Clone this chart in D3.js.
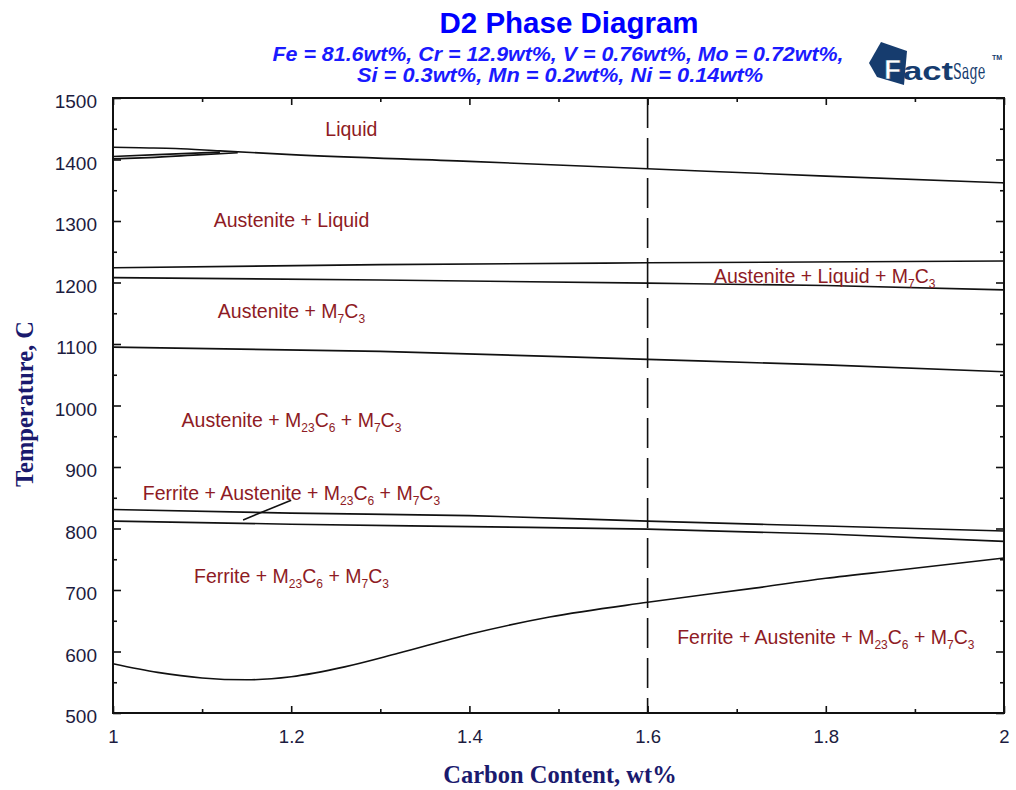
<!DOCTYPE html>
<html>
<head>
<meta charset="utf-8">
<script src="https://cdn.jsdelivr.net/npm/d3@7"></script>
<style>
  body { margin: 0; background: #fff; }
  svg { display: block; }
</style>
</head>
<body>
<svg id="chart" width="1016" height="790"></svg>
<script>
// phase boundaries, [wt% C, T in C]
let liquidus = [[1,1420],[1.03,1419],[1.07,1418],[1.12,1414],[1.2,1408],[1.4,1397],[1.6,1385],[1.8,1373],[2,1362]];
let lensUpper = [[1,1405],[1.05,1408],[1.12,1412]];
let lensLower = [[1,1401],[1.04,1403],[1.1,1408],[1.14,1411]];
let austLiqTop = [[1,1224],[1.3,1229],[1.6,1232],[2,1235]];
let austLiqBottom = [[1,1208],[1.3,1204],[1.6,1199],[1.8,1195],[2,1188]];
let m7c3Line = [[1,1095],[1.3,1088],[1.6,1075],[1.8,1066],[2,1055]];
let ferriteTop = [[1,831],[1.2,825],[1.4,821],[1.6,812],[1.8,804],[2,796]];
let ferriteBottom = [[1,812],[1.2,807],[1.4,803],[1.6,799],[1.8,791],[2,779]];
let lowCurve = [[1,580],[1.05,566],[1.1,557],[1.15,554],[1.2,559],[1.26,575],[1.32,597],[1.4,628],[1.49,656],[1.6,680],[1.72,703],[1.8,719],[1.88,732],[2,752]];
let pointer = [[1.146,814],[1.2,846]];
let sectionX = 1.6;

let xTicks = [1,1.2,1.4,1.6,1.8,2];
let xMinor = [1.1,1.3,1.5,1.7,1.9];
let yTicks = [500,600,700,800,900,1000,1100,1200,1300,1400,1500];
let yMinor = [550,650,750,850,950,1050,1150,1250,1350,1450];

// labels: [text parts, x, T, anchor]  parts: [text, sub?]
let labels = [
  [[["Liquid",0]], 1.2675, 1438, "middle"],
  [[["Austenite + Liquid",0]], 1.2003, 1290, "middle"],
  [[["Austenite + Liquid + M",0],["7",1],["C",0],["3",1]], 1.6745, 1200, "start"],
  [[["Austenite + M",0],["7",1],["C",0],["3",1]], 1.2003, 1142, "middle"],
  [[["Austenite + M",0],["23",1],["C",0],["6",1],[" + M",0],["7",1],["C",0],["3",1]], 1.2003, 965, "middle"],
  [[["Ferrite + Austenite + M",0],["23",1],["C",0],["6",1],[" + M",0],["7",1],["C",0],["3",1]], 1.2003, 847, "middle"],
  [[["Ferrite + M",0],["23",1],["C",0],["6",1],[" + M",0],["7",1],["C",0],["3",1]], 1.2003, 711, "middle"],
  [[["Ferrite + Austenite + M",0],["23",1],["C",0],["6",1],[" + M",0],["7",1],["C",0],["3",1]], 1.80, 612, "middle"]
];

let svg = d3.select("#chart");
let pLeft = 113, pRight = 1004, pTop = 98, pBottom = 713;

let x = d3.scaleLinear().domain([1,2]).range([pLeft,pRight]);
let y = d3.scaleLinear().domain([500,1500]).range([pBottom,pTop]);

let line = d3.line().x(d => x(d[0])).y(d => y(d[1])).curve(d3.curveMonotoneX);

// title
svg.append("text").attr("x",569).attr("y",33).attr("text-anchor","middle")
  .style("font-family","Liberation Sans, Arial").style("font-weight","bold").style("font-size","29.5px")
  .attr("fill","#0000ff").text("D2 Phase Diagram");
let subs = [["Fe = 81.6wt%, Cr = 12.9wt%, V = 0.76wt%, Mo = 0.72wt%,",558,61,571],
            ["Si = 0.3wt%, Mn = 0.2wt%, Ni = 0.14wt%",560,82,406]];
subs.forEach(s => {
  svg.append("text").attr("x",s[1]).attr("y",s[2]).attr("text-anchor","middle")
    .style("font-family","Liberation Sans, Arial").style("font-weight","bold").style("font-style","italic")
    .style("font-size","20px").attr("fill","#1a1aff")
    .attr("textLength",s[3]).attr("lengthAdjust","spacingAndGlyphs").text(s[0]);
});

// FactSage logo
let logo = svg.append("g");
logo.append("path").attr("d","M869,63 L881,42 L907,51 L904,85 L877,77 Z").attr("fill","#163c6e");
logo.append("text").attr("x",884).attr("y",79).style("font-family","Liberation Sans, Arial").style("font-weight","bold")
  .style("font-size","28px").attr("fill","#fff").attr("stroke","#163c6e").attr("stroke-width",0.6).text("F");
logo.append("text").attr("x",903).attr("y",80).style("font-family","Liberation Sans, Arial").style("font-weight","900")
  .style("font-size","25px").attr("fill","#163c6e")
  .attr("textLength",50).attr("lengthAdjust","spacingAndGlyphs").text("act");
logo.append("text").attr("transform","translate(953,79) scale(0.62,1)")
  .style("font-family","DejaVu Serif Condensed, Liberation Serif")
  .style("font-size","23px").attr("fill","#163c6e").text("Sage");
logo.append("text").attr("x",992).attr("y",60).style("font-family","Liberation Sans Narrow, Liberation Sans, Arial")
  .style("font-weight","bold").style("font-size","7px").attr("fill","#163c6e").text("TM");

// phase boundary lines
let boundaries = [liquidus, lensUpper, lensLower, austLiqTop, austLiqBottom, m7c3Line, ferriteTop, ferriteBottom, lowCurve, pointer];
svg.append("g").selectAll("path").data(boundaries).enter().append("path")
  .attr("d", line).attr("fill","none").attr("stroke","#111").attr("stroke-width",1.6);

// dashed section line
svg.append("line").attr("x1",x(sectionX)).attr("x2",x(sectionX)).attr("y1",y(1500)).attr("y2",y(500))
  .attr("stroke","#111").attr("stroke-width",1.6).attr("stroke-dasharray","30,10");

// region labels
labels.forEach(l => {
  let t = svg.append("text").attr("x",x(l[1])).attr("y",y(l[2])).attr("text-anchor",l[3])
    .style("font-family","Liberation Sans, Arial").style("font-size","19.5px").attr("fill","#8e1b24");
  let lastSub = false;
  l[0].forEach(p => {
    let ts = t.append("tspan").text(p[0]);
    if (p[1]) {
      ts.style("font-size","12px").attr("dy",lastSub ? 0 : 5);
      lastSub = true;
    } else {
      if (lastSub) ts.attr("dy",-5);
      lastSub = false;
    }
  });
});

// axes
let axisFont = size => g => {
  g.selectAll("text").style("font-family","Liberation Sans, Arial").style("font-size",size).attr("fill","#1c1c40");
  g.selectAll("line").attr("stroke","#111").attr("stroke-width",1.6);
  g.select(".domain").remove();
};
svg.append("g").attr("transform",`translate(0,${pBottom})`)
  .call(d3.axisBottom(x).tickValues(xTicks).tickSize(-7).tickPadding(17).tickFormat(d3.format("")))
  .call(axisFont("18.5px"));
svg.append("g").attr("transform",`translate(0,${pBottom})`)
  .call(d3.axisBottom(x).tickValues(xMinor).tickSize(-4).tickFormat("")).call(axisFont("18px"));
svg.append("g").attr("transform",`translate(0,${pTop})`)
  .call(d3.axisTop(x).tickValues(xTicks).tickSize(-7).tickFormat("")).call(axisFont("18px"));
svg.append("g").attr("transform",`translate(0,${pTop})`)
  .call(d3.axisTop(x).tickValues(xMinor).tickSize(-4).tickFormat("")).call(axisFont("18px"));
let yAxis = svg.append("g").attr("transform",`translate(${pLeft},0)`)
  .call(d3.axisLeft(y).tickValues(yTicks).tickSize(-8).tickPadding(16).tickFormat(d3.format("d")))
  .call(axisFont("19px"));
yAxis.selectAll("text").attr("dy","0.5em");
svg.append("g").attr("transform",`translate(${pLeft},0)`)
  .call(d3.axisLeft(y).tickValues(yMinor).tickSize(-4).tickFormat("")).call(axisFont("18px"));
svg.append("g").attr("transform",`translate(${pRight},0)`)
  .call(d3.axisRight(y).tickValues(yTicks).tickSize(-8).tickFormat("")).call(axisFont("18px"));
svg.append("g").attr("transform",`translate(${pRight},0)`)
  .call(d3.axisRight(y).tickValues(yMinor).tickSize(-4).tickFormat("")).call(axisFont("18px"));

// frame
svg.append("rect").attr("x",pLeft).attr("y",pTop).attr("width",pRight-pLeft).attr("height",pBottom-pTop)
  .attr("fill","none").attr("stroke","#111").attr("stroke-width",2);

// axis titles
svg.append("text").attr("x",560).attr("y",783).attr("text-anchor","middle")
  .style("font-family","Liberation Serif, Times New Roman").style("font-weight","bold").style("font-size","24.5px")
  .attr("fill","#1a1a6e").text("Carbon Content, wt%");
svg.append("text").attr("transform","translate(33,404) rotate(-90)").attr("text-anchor","middle")
  .style("font-family","Liberation Serif, Times New Roman").style("font-weight","bold").style("font-size","24.5px")
  .attr("fill","#1a1a6e").text("Temperature, C");
</script>
</body>
</html>
